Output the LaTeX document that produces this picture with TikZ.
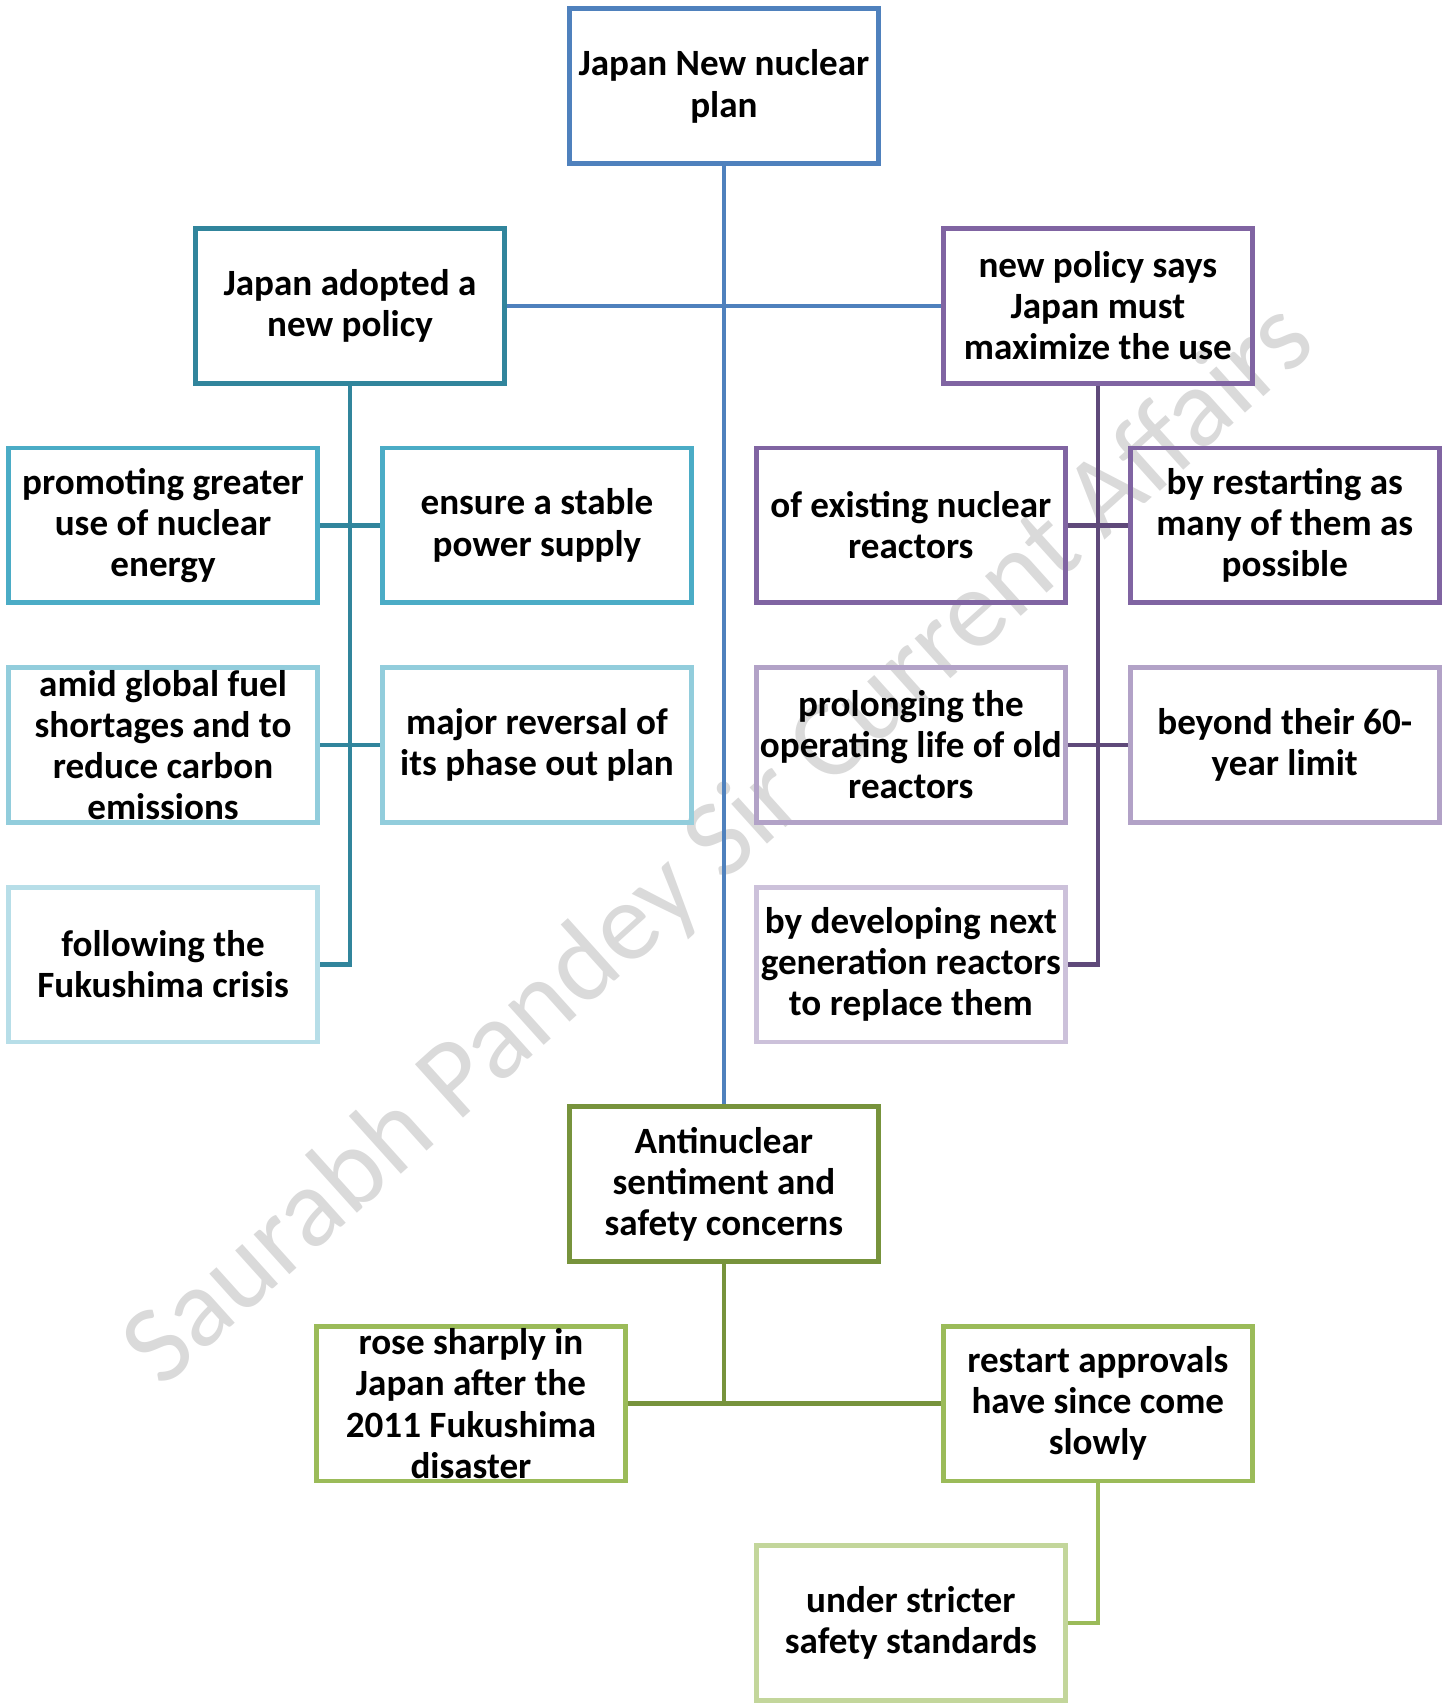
\documentclass[tikz,border=0pt]{standalone}
\usepackage{fontspec}
\setmainfont{Carlito}
\usetikzlibrary{positioning,calc}
\definecolor{planblue}{HTML}{4F81BD}
\definecolor{tealdark}{HTML}{31859C}
\definecolor{tealmid}{HTML}{4BACC6}
\definecolor{teallight}{HTML}{92CDDC}
\definecolor{tealpale}{HTML}{B7DEE8}
\definecolor{purpledark}{HTML}{5F497A}
\definecolor{purplemid}{HTML}{8064A2}
\definecolor{purplelight}{HTML}{B2A2C7}
\definecolor{purplepale}{HTML}{CCC1DA}
\definecolor{greendark}{HTML}{77933C}
\definecolor{greenmid}{HTML}{9BBB59}
\definecolor{greenpale}{HTML}{C3D69B}
\definecolor{markgray}{HTML}{DADADA}
\tikzset{
    planbox/.style={draw, line width=1.4pt, align=center, inner sep=0pt,
        minimum width=3.105cm, minimum height=1.555cm,
        font=\fontsize{10.6}{11.75}\selectfont\bfseries},
    planline/.style={line width=1.3pt},
    watermark/.style={text=markgray, rotate=42, font=\fontsize{32}{32}\selectfont}
}
\newcommand{\tightlines}[1]{\parbox[c][1.4cm][c]{3.1cm}{\centering #1}}

\begin{document}
\begin{tikzpicture}[node distance=0.6cm and 0.6cm]
\node[watermark] (mark) at (5.6,-3.22) {Saurabh Pandey Sir Current Affairs};
% middle grid
\node[planbox, draw=tealmid] (promote) {promoting greater\\use of nuclear\\energy};
\node[planbox, draw=tealmid, right=of promote] (ensure) {ensure a stable\\power supply};
\node[planbox, draw=purplemid, right=of ensure] (existing) {of existing nuclear\\reactors};
\node[planbox, draw=purplemid, right=of existing] (restart) {by restarting as\\many of them as\\possible};
\node[planbox, draw=teallight, below=of promote] (amid) {\tightlines{amid global fuel\\shortages and to\\reduce carbon\\emissions}};
\node[planbox, draw=teallight, below=of ensure] (reversal) {major reversal of\\its phase out plan};
\node[planbox, draw=purplelight, below=of existing] (prolong) {prolonging the\\operating life of old\\reactors};
\node[planbox, draw=purplelight, below=of restart] (beyond) {beyond their 60-\\year limit};
\node[planbox, draw=tealpale, below=of amid] (following) {following the\\Fukushima crisis};
\node[planbox, draw=purplepale, below=of prolong] (nextgen) {by developing next\\generation reactors\\to replace them};
% upper levels
\coordinate (lgap) at ($(promote.north east)!0.5!(ensure.north west)$);
\coordinate (rgap) at ($(existing.north east)!0.5!(restart.north west)$);
\coordinate (cgap) at ($(ensure.north east)!0.5!(existing.north west)$);
\node[planbox, draw=tealdark, above=of lgap] (adopted) {Japan adopted a\\new policy};
\node[planbox, draw=purplemid, above=of rgap] (says) {new policy says\\Japan must\\maximize the use};
\coordinate (ctop) at (adopted.north -| cgap);
\node[planbox, draw=planblue, above=of ctop] (plan) {Japan New nuclear\\plan};
% lower levels
\coordinate (cbot) at (following.south -| cgap);
\node[planbox, draw=greendark, below=of cbot] (antinuclear) {Antinuclear\\sentiment and\\safety concerns};
\node[planbox, draw=greenmid, below=of antinuclear, xshift=-2.54cm] (rose) {\tightlines{rose sharply in\\Japan after the\\2011 Fukushima\\disaster}};
\coordinate (rbot) at (antinuclear.south -| says);
\node[planbox, draw=greenmid, below=of rbot] (approvals) {restart approvals\\have since come\\slowly};
\coordinate (sbot) at (approvals.south -| nextgen);
\node[planbox, draw=greenpale, below=of sbot] (stricter) {under stricter\\safety standards};
% connectors
\draw[planline, planblue] (plan) -- (antinuclear);
\draw[planline, planblue] (adopted) -- (says);
\draw[planline, tealdark] (adopted) |- (following);
\draw[planline, tealdark] (promote) -- (ensure);
\draw[planline, tealdark] (amid) -- (reversal);
\draw[planline, purpledark] (says) |- (nextgen);
\draw[planline, purpledark] (existing) -- (restart);
\draw[planline, purpledark] (prolong) -- (beyond);
\draw[planline, greendark] (antinuclear.south) -- (antinuclear.south |- rose.east);
\draw[planline, greendark] (rose) -- (approvals);
\draw[planline, greenmid] (approvals) |- (stricter);
\useasboundingbox ($(promote.west |- plan.north)+(-0.06,0.065)$) rectangle ++(14.53,-17.03);
\end{tikzpicture}
\end{document}
